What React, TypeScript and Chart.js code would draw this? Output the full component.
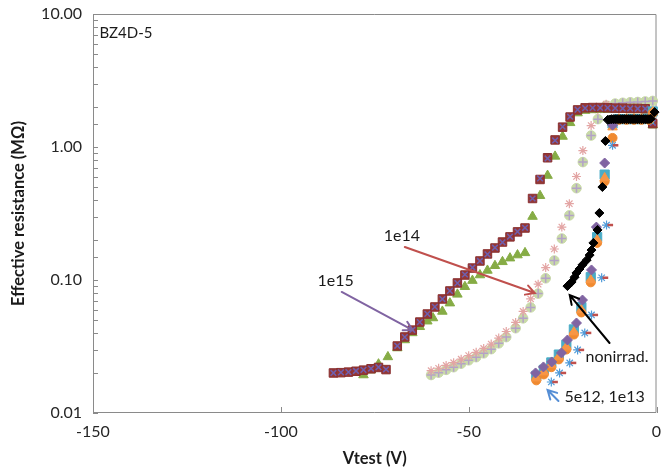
import React, { useEffect, useRef } from 'react';
import { Chart, registerables } from 'chart.js';
Chart.register(...registerables);

// ---------- data (Vtest in V, effective resistance in MΩ) ----------
const xTicks = [-150, -100, -50, 0];
const yMajorTicks = [0.01, 0.1, 1, 10];
const yTickLabels = ['0.01', '0.10', '1.00', '10.00'];

// maroon squares
const sqV = [-86, -84, -82, -80, -78, -76, -74, -72, -69, -67, -65, -63, -61, -59, -57, -55, -53, -51, -49, -47, -45, -43, -41, -39, -37, -35, -33, -31, -29, -27, -25, -23, -21, -19, -17, -15, -13, -11, -9, -7, -5, -3, -1];
const sqR = [0.0200, 0.0201, 0.0203, 0.0206, 0.0210, 0.0215, 0.0220, 0.0212, 0.0319, 0.0373, 0.0420, 0.0483, 0.0555, 0.0627, 0.0720, 0.0827, 0.0950, 0.109, 0.123, 0.139, 0.157, 0.174, 0.193, 0.211, 0.230, 0.246, 0.41, 0.57, 0.83, 1.13, 1.41, 1.68, 1.90, 1.97, 1.98, 1.98, 1.97, 1.96, 1.96, 1.95, 1.95, 1.94, 1.50];
// purple crosses on the squares
const xsV = [-86, -84, -82, -80, -78, -76, -74, -72, -69, -67, -65, -63, -61, -59, -57, -55, -53, -51, -49, -47, -45, -43, -41, -39, -37, -35, -33, -31, -29, -27, -25, -23, -21, -19, -17, -15, -13, -11, -9, -7, -5, -3, -1];
const xsR = [0.0200, 0.0202, 0.0203, 0.0207, 0.0211, 0.0216, 0.0221, 0.0213, 0.0320, 0.0372, 0.0421, 0.0482, 0.0556, 0.0628, 0.0719, 0.0828, 0.0948, 0.110, 0.124, 0.139, 0.156, 0.175, 0.192, 0.212, 0.231, 0.247, 0.41, 0.58, 0.82, 1.12, 1.42, 1.69, 1.91, 1.96, 1.97, 1.97, 1.97, 1.96, 1.95, 1.95, 1.94, 1.94, 1.52];
// green triangles
const trV = [-78, -76, -74, -71.5, -69, -67, -65, -63, -61, -59.5, -57, -55, -53, -51, -49, -47, -45, -43, -41, -39, -37, -35, -33, -31, -29, -27, -25, -23, -21, -19, -17, -15, -13, -11, -9, -7, -5, -3, -1];
const trR = [0.0193, 0.0210, 0.0233, 0.0264, 0.0308, 0.0354, 0.0400, 0.0445, 0.0490, 0.0518, 0.058, 0.067, 0.078, 0.089, 0.099, 0.109, 0.118, 0.128, 0.137, 0.146, 0.154, 0.160, 0.30, 0.43, 0.61, 0.85, 1.20, 1.52, 1.80, 1.88, 1.90, 1.91, 1.91, 1.91, 1.91, 1.90, 1.90, 1.89, 1.46];
// pale circles (and lavender plus)
const ciV = [-60, -58, -56, -54, -52, -50, -48, -46, -44, -42, -40, -37.5, -35.5, -33.5, -31.5, -29.5, -27.2, -25.2, -23.2, -21.3, -19.6, -17.4, -15.6, -13.4, -11, -9, -7, -5, -3, -1];
const ciR = [0.0193, 0.0201, 0.0211, 0.0221, 0.0235, 0.0249, 0.0263, 0.0281, 0.0302, 0.0334, 0.0372, 0.0434, 0.0515, 0.0622, 0.079, 0.103, 0.140, 0.205, 0.306, 0.49, 0.77, 1.22, 1.62, 2.05, 2.12, 2.15, 2.17, 2.18, 2.20, 2.22];
// pink asterisks
const pkV = [-60, -58, -56, -54, -52, -50, -48, -46, -44, -42, -40, -37.5, -35.5, -33.5, -31.5, -29.5, -27.2, -25.2, -23.2, -21.3, -19.6, -17.4, -15.6, -13.4];
const pkR = [0.0208, 0.0217, 0.0228, 0.0239, 0.0254, 0.0270, 0.0286, 0.0306, 0.0330, 0.0366, 0.0410, 0.048, 0.058, 0.072, 0.093, 0.124, 0.171, 0.25, 0.375, 0.60, 0.94, 1.45, 1.90, 2.10];
// black diamonds (nonirrad.)
const niV = [-23.7, -22.6, -21.8, -21.3, -20.5, -19.7, -18.6, -17.8, -17.3, -16.8, -15.7, -15.2, -14.4, -13.6, -13, -12.5, -12, -11.5, -11, -10.5, -10, -9.5, -9, -8.5, -8, -7.5, -7, -6.5, -6, -5.5, -5, -4.5, -4, -3.5, -3, -2.5, -2, -1.5, -0.5];
const niR = [0.090, 0.0966, 0.105, 0.113, 0.121, 0.130, 0.141, 0.154, 0.168, 0.190, 0.238, 0.319, 0.50, 1.11, 1.60, 1.61, 1.62, 1.62, 1.62, 1.62, 1.62, 1.62, 1.62, 1.62, 1.62, 1.62, 1.62, 1.62, 1.62, 1.62, 1.62, 1.62, 1.62, 1.62, 1.62, 1.62, 1.62, 1.63, 1.83];
// 5e12 / 1e13 group
const orV = [-32, -30, -28, -26, -24, -22, -20, -17.5, -15.8, -13.8, -11.7, -10, -8, -6, -4, -2, -1];
const orR = [0.0183, 0.0203, 0.0230, 0.0264, 0.0313, 0.0406, 0.0595, 0.100, 0.200, 0.585, 1.41, 1.62, 1.62, 1.62, 1.62, 1.63, 1.83];
const cyV = [-32, -30, -28, -26, -24, -22, -20, -17.5, -15.8, -13.8, -11.7, -10, -8, -6, -4, -2, -1];
const cyR = [0.0190, 0.0211, 0.0240, 0.0275, 0.0326, 0.0425, 0.0625, 0.105, 0.210, 0.62, 1.50, 1.62, 1.62, 1.62, 1.62, 1.63, 1.85];
const ocV = [-32, -30, -28, -26, -24, -22, -20, -17.5, -15.8, -13.8, -11.7, -10, -8, -6, -4, -2, -1];
const ocR = [0.0176, 0.0195, 0.0221, 0.0253, 0.0300, 0.0389, 0.057, 0.096, 0.190, 0.55, 1.17, 1.60, 1.60, 1.60, 1.60, 1.60, 1.80];
const pdV = [-32.2, -30.1, -27.9, -25.3, -23.7, -21.3, -19.7, -17.3, -16, -13.8, -11.7];
const pdR = [0.0200, 0.0222, 0.0242, 0.0283, 0.0354, 0.0475, 0.0707, 0.119, 0.250, 0.758, 1.46];
const baV = [-28, -25.8, -23.1, -21, -19.1, -17.3, -14.6, -13.3, -11.7];
const baR = [0.0171, 0.0200, 0.0238, 0.0298, 0.0400, 0.0546, 0.104, 0.259, 1.03];
const rdV = [-27, -24.8, -22.1, -20, -18.1, -16.3, -13.6, -12.3, -10.9];
const rdR = [0.0171, 0.0200, 0.0238, 0.0298, 0.0400, 0.0546, 0.104, 0.259, 1.03];

// annotations (data coordinates)
const noteTexts = ['BZ4D-5', '1e14', '1e15', 'nonirrad.', '5e12, 1e13'];
const noteX = [-148.3, -67.8, -85.4, -18.9, -24.5];
const noteY = [7.2, 0.214, 0.098, 0.0266, 0.0132];
const noteAlign = ['left', 'center', 'center', 'left', 'left'];
const arrowColors = ['#C0504D', '#8064A2', '#000000', '#558ED5'];
const arrowFromX = [-67, -83.8, -12.5, -26.1];
const arrowFromY = [0.177, 0.0813, 0.0336, 0.0123];
const arrowToX = [-32.4, -64.9, -23.1, -29.0];
const arrowToY = [0.0798, 0.042, 0.077, 0.0149];

const pts = (v: number[], r: number[]) => v.map((x, i) => ({ x, y: r[i] }));

function ds(label: string, v: number[], r: number[], style: string, radius: number, fill: string, border: string, bw = 1) {
  return {
    label,
    data: pts(v, r),
    pointStyle: style,
    pointRadius: radius,
    pointHoverRadius: radius,
    backgroundColor: fill,
    borderColor: border,
    pointBorderWidth: bw,
    borderWidth: bw,
    showLine: false,
    clip: false as any,
  };
}

const overlay = {
  id: 'overlay',
  beforeDatasetsDraw(chart: any) {
    const { ctx, chartArea: a, scales } = chart;
    const xs = scales.x, ys = scales.y;
    ctx.save();
    ctx.strokeStyle = '#8a8a8a';
    ctx.lineWidth = 1;
    ctx.beginPath();
    ctx.rect(a.left + 0.5, a.top + 0.5, a.right - a.left - 1, a.bottom - a.top - 1);
    ys.ticks.forEach((t: any) => {
      const py = Math.round(ys.getPixelForValue(t.value)) + 0.5;
      ctx.moveTo(a.left, py);
      ctx.lineTo(a.left + 5, py);
    });
    xs.ticks.forEach((t: any) => {
      const px = Math.round(xs.getPixelForValue(t.value)) + 0.5;
      ctx.moveTo(px, a.bottom);
      ctx.lineTo(px, a.bottom - 6);
    });
    ctx.stroke();
    ctx.restore();
  },
  afterDraw(chart: any) {
    const { ctx, scales } = chart;
    const xs = scales.x, ys = scales.y;
    ctx.save();
    arrowColors.forEach((c, i) => {
      const x1 = xs.getPixelForValue(arrowFromX[i]);
      const y1 = ys.getPixelForValue(arrowFromY[i]);
      const x2 = xs.getPixelForValue(arrowToX[i]);
      const y2 = ys.getPixelForValue(arrowToY[i]);
      const ang = Math.atan2(y2 - y1, x2 - x1);
      const hl = 10;
      ctx.strokeStyle = c;
      ctx.lineWidth = 2;
      ctx.lineCap = 'round';
      ctx.beginPath();
      ctx.moveTo(x1, y1);
      ctx.lineTo(x2, y2);
      ctx.moveTo(x2 - hl * Math.cos(ang - 0.5), y2 - hl * Math.sin(ang - 0.5));
      ctx.lineTo(x2, y2);
      ctx.lineTo(x2 - hl * Math.cos(ang + 0.5), y2 - hl * Math.sin(ang + 0.5));
      ctx.stroke();
    });
    ctx.fillStyle = '#1a1a1a';
    ctx.textBaseline = 'middle';
    noteTexts.forEach((t, i) => {
      ctx.font = i === 0 ? '15px Lato' : '16px Lato';
      ctx.textAlign = noteAlign[i] as CanvasTextAlign;
      ctx.fillText(t, xs.getPixelForValue(noteX[i]), ys.getPixelForValue(noteY[i]));
    });
    ctx.restore();
  },
};

export default function App() {
  const ref = useRef<HTMLCanvasElement>(null);
  useEffect(() => {
    if (!ref.current) return;
    const chart = new Chart(ref.current, {
      type: 'scatter',
      data: {
        datasets: [
          ds('nonirrad', niV, niR, 'rectRot', 4.5, '#000000', '#000000'),
          ds('red dash', rdV, rdR, 'line', 2.8, '#C0504D', '#C0504D', 2.5),
          ds('blue star', baV, baR, 'star', 4.5, '#4F9BD9', '#4F9BD9', 1.2),
          ds('purple diamond', pdV, pdR, 'rectRot', 5, '#8064A2', '#8064A2'),
          ds('orange tri', orV, orR, 'triangle', 5.5, '#F79646', '#F79646'),
          ds('orange circ', ocV, ocR, 'circle', 4.5, '#F08A30', '#F08A30'),
          ds('cyan sq', cyV, cyR, 'rect', 6.5, '#4BACC6', '#4BACC6'),
          ds('purple x', xsV, xsR, 'crossRot', 4, '#7060B0', '#6F5FAF', 1.5),
          ds('maroon sq', sqV, sqR, 'rect', 6, '#953735', '#8A3030'),
          ds('green tri', trV, trR, 'triangle', 5.5, '#86AC45', '#86AC45'),
          ds('pink star', pkV, pkR, 'star', 4.5, '#E3A5A4', '#E3A5A4', 1.2),
          ds('lav plus', ciV, ciR, 'cross', 4.5, '#B3A2C7', '#B3A2C7', 1.5),
          ds('pale circ', ciV, ciR, 'circle', 4.8, '#C9DAA8', '#C9DAA8'),
        ],
      },
      options: {
        responsive: false,
        animation: false,
        events: [],
        layout: { padding: { top: 14, right: 7, left: 0, bottom: 0 } },
        plugins: { legend: { display: false }, tooltip: { enabled: false } },
        scales: {
          x: {
            type: 'linear',
            min: -150,
            max: 0,
            afterBuildTicks: (s: any) => { s.ticks = xTicks.map((value) => ({ value })); },
            afterFit: (s: any) => { s.height = 61; s.paddingLeft = 0; s.paddingRight = 0; },
            grid: { display: false, drawTicks: false },
            border: { display: false },
            ticks: { color: '#262626', font: { family: 'Lato', size: 16 }, padding: 9, autoSkip: false, maxRotation: 0, callback: (v: any) => String(v) },
            title: { display: true, text: 'Vtest (V)', color: '#1a1a1a', font: { family: 'Lato', size: 16.5, weight: 'bold' }, padding: { top: 0, bottom: 5 } },
          },
          y: {
            type: 'logarithmic',
            min: 0.01,
            max: 10,
            afterFit: (s: any) => { s.width = 93; s.paddingTop = 0; s.paddingBottom = 0; },
            grid: { display: false, drawTicks: false },
            border: { display: false },
            ticks: {
              color: '#262626',
              font: { family: 'Lato', size: 16 },
              padding: 11,
              autoSkip: false,
              callback: (v: any) => {
                const i = yMajorTicks.findIndex((m) => Math.abs(v - m) / m < 1e-6);
                return i >= 0 ? yTickLabels[i] : '';
              },
            },
            title: { display: true, text: 'Effective resistance (MΩ)', color: '#1a1a1a', font: { family: 'Lato', size: 16.5, weight: 'bold' }, padding: { top: 9, bottom: 0 } },
          },
        },
      } as any,
      plugins: [overlay],
    });
    return () => chart.destroy();
  }, []);
  return (
    <div style={{ position: 'fixed', left: 0, top: 0, width: 664, height: 474, background: '#fff' }}>
      <canvas ref={ref} width={664} height={474} style={{ display: 'block' }} />
    </div>
  );
}
